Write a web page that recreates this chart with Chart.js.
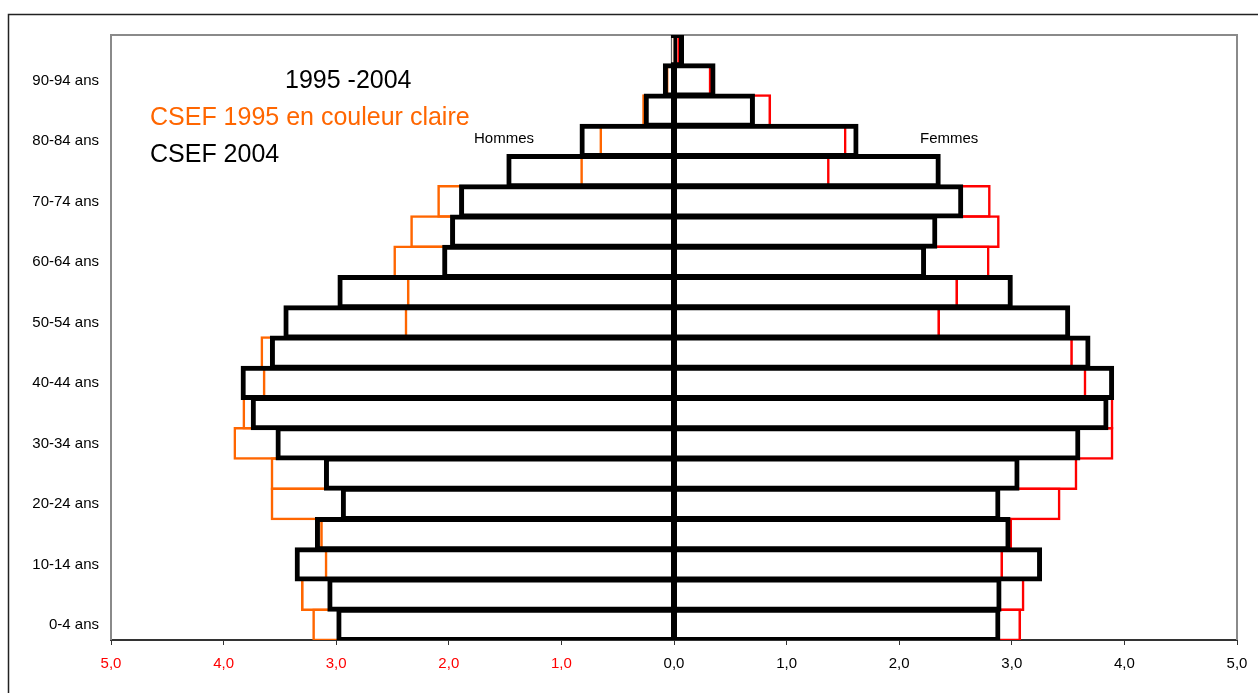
<!DOCTYPE html>
<html>
<head>
<meta charset="utf-8">
<script src="https://cdn.jsdelivr.net/npm/chart.js@4"></script>
<style>
  body { margin: 0; background: #fff; }
  #wrap { position: relative; width: 1258px; height: 693px; }
</style>
</head>
<body>
<div id="wrap"><canvas id="pyramide"></canvas></div>
<script>
// tranches d'age, du bas vers le haut
const ages = ["0-4 ans", "5-9 ans", "10-14 ans", "15-19 ans", "20-24 ans", "25-29 ans",
  "30-34 ans", "35-39 ans", "40-44 ans", "45-49 ans", "50-54 ans", "55-59 ans",
  "60-64 ans", "65-69 ans", "70-74 ans", "75-79 ans", "80-84 ans", "85-89 ans",
  "90-94 ans", "95 ans et +"];

// en % de l'effectif
const hommes2004 = [2.99, 3.07, 3.36, 3.18, 2.95, 3.10, 3.53, 3.75, 3.84, 3.58,
  3.46, 2.98, 2.05, 1.98, 1.90, 1.48, 0.83, 0.26, 0.09, 0.02];
const femmes2004 = [2.89, 2.90, 3.26, 2.98, 2.89, 3.06, 3.60, 3.85, 3.90, 3.69,
  3.51, 3.00, 2.23, 2.33, 2.56, 2.36, 1.63, 0.71, 0.36, 0.08];
const hommes1995 = [3.21, 3.31, 3.10, 3.14, 3.58, 3.58, 3.91, 3.83, 3.65, 3.67,
  2.39, 2.37, 2.49, 2.34, 2.10, 0.83, 0.66, 0.28, 0.07, 0.01];
const femmes1995 = [3.08, 3.11, 2.92, 3.00, 3.43, 3.58, 3.90, 3.90, 3.66, 3.54,
  2.36, 2.52, 2.80, 2.89, 2.81, 1.38, 1.53, 0.86, 0.33, 0.05];

const xTicks = [-5, -4, -3, -2, -1, 0, 1, 2, 3, 4, 5];

const FONT = "'Liberation Sans', Arial, sans-serif";
const BAR_PCT = 1.07; // chaque barre deborde un peu sur la voisine, comme les bordures Excel

const decor = {
  id: "decor",
  beforeDatasetsDraw(chart) {
    const { ctx, chartArea: a } = chart;
    ctx.save();
    ctx.strokeStyle = "#8a8a8a";
    ctx.lineWidth = 2;
    ctx.beginPath();
    ctx.moveTo(a.left, a.bottom);
    ctx.lineTo(a.left, a.top);
    ctx.lineTo(a.right, a.top);
    ctx.lineTo(a.right, a.bottom);
    ctx.stroke();
    ctx.restore();
  },
  afterDraw(chart) {
    const ctx = chart.ctx;
    ctx.save();
    // cadre exterieur
    ctx.strokeStyle = "#222";
    ctx.lineWidth = 1.5;
    ctx.beginPath();
    ctx.moveTo(8.5, 693);
    ctx.lineTo(8.5, 14.5);
    ctx.lineTo(1258, 14.5);
    ctx.stroke();

    ctx.textBaseline = "alphabetic";
    ctx.textAlign = "left";
    ctx.font = "25px " + FONT;
    ctx.fillStyle = "#000";
    ctx.fillText("1995 -2004", 285, 88);
    ctx.fillStyle = "#ff6600";
    ctx.fillText("CSEF 1995 en couleur claire", 150, 125);
    ctx.fillStyle = "#000";
    ctx.fillText("CSEF 2004", 150, 162);

    ctx.font = "15px " + FONT;
    ctx.fillText("Hommes", 474, 143);
    ctx.fillText("Femmes", 920, 143);
    ctx.restore();
  }
};

new Chart(document.getElementById("pyramide"), {
  type: "bar",
  data: {
    labels: ages,
    datasets: [
      {
        label: "Hommes 2004",
        data: hommes2004.map((v) => -v),
        borderColor: "#000",
        borderWidth: { top: 3, bottom: 3, left: 3, right: 1.5 },
        inflateAmount: 1
      },
      {
        label: "Femmes 2004",
        data: femmes2004,
        borderColor: "#000",
        borderWidth: { top: 3, bottom: 3, left: 1.5, right: 3 },
        inflateAmount: 1
      },
      {
        label: "Hommes 1995",
        data: hommes1995.map((v) => -v),
        borderColor: "#ff6600",
        borderWidth: 2,
        inflateAmount: 0.3
      },
      {
        label: "Femmes 1995",
        data: femmes1995,
        borderColor: "#ff0000",
        borderWidth: 2,
        inflateAmount: 0.3
      }
    ]
  },
  options: {
    indexAxis: "y",
    responsive: true,
    maintainAspectRatio: false,
    animation: false,
    layout: { padding: { top: 35, right: 21, left: 0, bottom: 0 } },
    datasets: {
      bar: {
        grouped: false,
        backgroundColor: "rgba(0,0,0,0)",
        borderSkipped: false,
        barPercentage: BAR_PCT,
        categoryPercentage: 1
      }
    },
    plugins: {
      legend: { display: false },
      tooltip: { enabled: false }
    },
    scales: {
      x: {
        type: "linear",
        min: -5,
        max: 5,
        afterBuildTicks: (scale) => {
          scale.ticks = xTicks.map((v) => ({ value: v }));
        },
        afterFit: (scale) => { scale.height = 53; },
        grid: {
          drawOnChartArea: false,
          tickLength: 5,
          color: "#333"
        },
        border: { color: "#333", width: 2 },
        ticks: {
          padding: 10,
          font: { family: FONT, size: 15 },
          color: (c) => (c.tick && c.tick.value < 0 ? "#ff0000" : "#000"),
          callback: (v) => Math.abs(v).toFixed(1).replace(".", ",")
        }
      },
      y: {
        reverse: true,
        afterFit: (scale) => { scale.width = 111; },
        grid: { display: false, drawTicks: false },
        border: { display: false },
        ticks: {
          autoSkip: false,
          padding: 12,
          font: { family: FONT, size: 15 },
          color: "#000",
          callback: function (v, i) {
            return i % 2 === 0 ? this.getLabelForValue(v) : "";
          }
        }
      }
    }
  },
  plugins: [decor]
});
</script>
</body>
</html>
